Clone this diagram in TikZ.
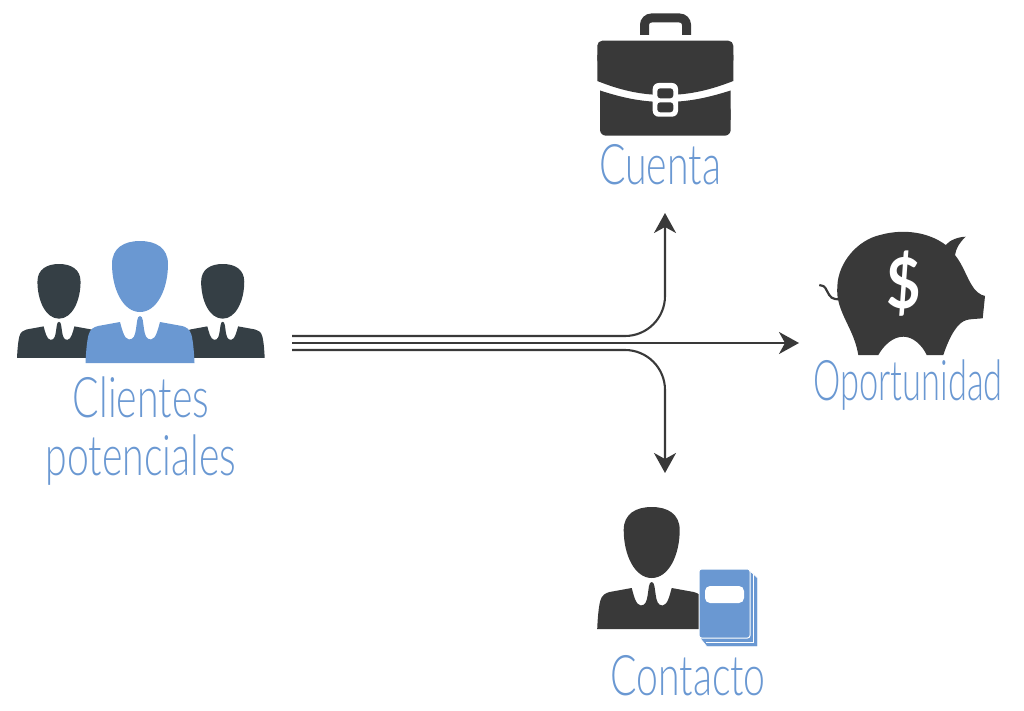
\documentclass[tikz,border=0pt]{standalone}
\usepackage{fontspec}
\usepackage{tikz}
\usetikzlibrary{arrows.meta}
\newfontfamily\handfont{Lato Light}
\newfontfamily\dolarfont{Lato Bold}
\definecolor{azul}{HTML}{6A98D2}
\definecolor{oscuro}{HTML}{393939}
\definecolor{pizarra}{HTML}{353F45}
\tikzstyle{etiqueta} = [text=azul,inner sep=0pt,anchor=base,align=center,transform shape,xscale=0.7,
font=\handfont\fontsize{56}{82}\selectfont]
\tikzstyle{flecha} = [oscuro,line width=2.1pt,-{Stealth[length=20pt,width=22pt,inset=6pt]}]
\tikzstyle{raya} = [oscuro,line width=2.1pt,rounded corners=40pt]
\newcommand{\persona}[4]{%
    \begin{scope}[shift={(#1,#2)},scale=#3]
        \fill[#4] (0,71) .. controls (17,71) and (28,48) .. (28,23) .. controls (28,7) and (16,0) .. (0,0)
            .. controls (-16,0) and (-28,7) .. (-28,23) .. controls (-28,48) and (-17,71) .. (0,71) -- cycle;
        \fill[#4] (-54.5,122) .. controls (-54,110) and (-53,100) .. (-51.5,94) .. controls (-50,88) and (-46,86) .. (-42,85)
            -- (-20,81) .. controls (-18,88) and (-16,98) .. (-11,98.5) .. controls (-6,98.5) and (-5,94) .. (-4,88)
            .. controls (-3,82) and (-3,75) .. (0,75) .. controls (3,75) and (3,82) .. (4,88)
            .. controls (5,94) and (6,98.5) .. (11,98.5) .. controls (16,98) and (18,88) .. (20,81)
            -- (42,85) .. controls (46,86) and (50,88) .. (51.5,94) .. controls (53,100) and (54,110) .. (54.5,122) -- cycle;
    \end{scope}}

\begin{document}
\begin{tikzpicture}[x=1pt,y=-1pt]
    \useasboundingbox (0,0) rectangle (1024,711);
    % clientes
    \persona{59}{264}{0.77}{pizarra}
    \persona{222.7}{264}{0.77}{pizarra}
    \persona{140}{241}{1}{azul}
    \node[etiqueta] (clientes) at (141,417) {Clientes};
    \node[etiqueta] (potenciales) at (141,475) {potenciales};

    % cuenta
    \draw[oscuro,line width=9pt,rounded corners=7pt] (644.5,35) -- (644.5,18) -- (686.5,18) -- (686.5,35);
    \fill[oscuro,rounded corners=5pt] (597.3,65) -- (597.3,40.7) -- (733.3,40.7) -- (733.3,65) -- cycle;
    \fill[oscuro] (597.3,81) .. controls (620,90) and (640,95) .. (665,95) .. controls (690,95) and (710,90) .. (733.3,81) -- (733.3,55) -- (597.3,55) -- cycle;
    \fill[oscuro] (600,90.5) .. controls (620,97) and (640,102) .. (665,102) .. controls (690,102) and (710,97) .. (730.7,90.5) -- (730.7,120) -- (600,120) -- cycle;
    \fill[oscuro,rounded corners=6pt] (600,105) rectangle (730.7,135.7);
    \fill[white,rounded corners=6pt] (652.7,83) rectangle (678,116.7);
    \fill[oscuro,rounded corners=3pt] (657.3,88.3) rectangle (673.3,98.3);
    \fill[oscuro,rounded corners=3pt] (657.3,102.3) rectangle (673.3,112.3);
    \node[etiqueta] (cuenta) at (660,185) {Cuenta};

    % oportunidad
    \draw[oscuro,line width=2.2pt] (840,299) .. controls (832,300) and (830,297) .. (827,291) .. controls (825,286) and (822,285) .. (819.3,285);
    \fill[oscuro] (858.3,355) .. controls (855,335) and (845,322) .. (840,306.7) .. controls (837,298) and (837,292) .. (837.3,286.7)
        .. controls (838,262) and (858,240) .. (880,235) .. controls (905,228) and (930,233) .. (945.7,245)
        .. controls (950,240) and (958,237) .. (965.7,236.7) .. controls (960,242) and (956,248) .. (955,255)
        .. controls (963,265) and (967,278) .. (971.7,285) .. controls (975,291) and (980,295) .. (985,296)
        -- (982.7,318.3) .. controls (975,319) and (970,319) .. (966.7,320) .. controls (958,322) and (950,335) .. (943.3,355)
        -- (926.7,355) .. controls (922,345) and (913,336.7) .. (903.3,336.7) .. controls (893,336.7) and (884,345) .. (878.3,355) -- cycle;
    \node[text=white,inner sep=0pt,transform shape,xscale=0.85,font=\dolarfont\fontsize{70}{70}\selectfont] (dolar) at (903.3,284) {\$};
    \node[etiqueta,xscale=0.88] (oportunidad) at (908,400) {Oportunidad};

    % contacto
    \persona{651.7}{507}{1}{oscuro}
    \fill[azul,draw=white,line width=0.6pt] (750,571) -- (757.7,578) -- (757.7,646.7) -- (707,646.7) -- (700,638) -- cycle;
    \draw[white,line width=1pt] (753.5,574) -- (753.5,642.5) -- (706,642.5);
    \fill[azul,draw=white,line width=1pt,rounded corners=2.5pt] (699,569) rectangle (750,638);
    \fill[white,rounded corners=5pt] (705,586) rectangle (744,603);
    \node[etiqueta] (contacto) at (688,695) {Contacto};

    % flechas
    \coordinate (salidaA) at (292,336);
    \coordinate (salidaB) at (292,343);
    \coordinate (salidaC) at (292,350);
    \coordinate (llegadaCuenta) at (665,213);
    \coordinate (llegadaOportunidad) at (799,343);
    \coordinate (llegadaContacto) at (665,473);
    \draw[raya,flecha] (salidaA) -| (llegadaCuenta);
    \draw[flecha] (salidaB) -- (llegadaOportunidad);
    \draw[raya,flecha] (salidaC) -| (llegadaContacto);
\end{tikzpicture}
\end{document}
